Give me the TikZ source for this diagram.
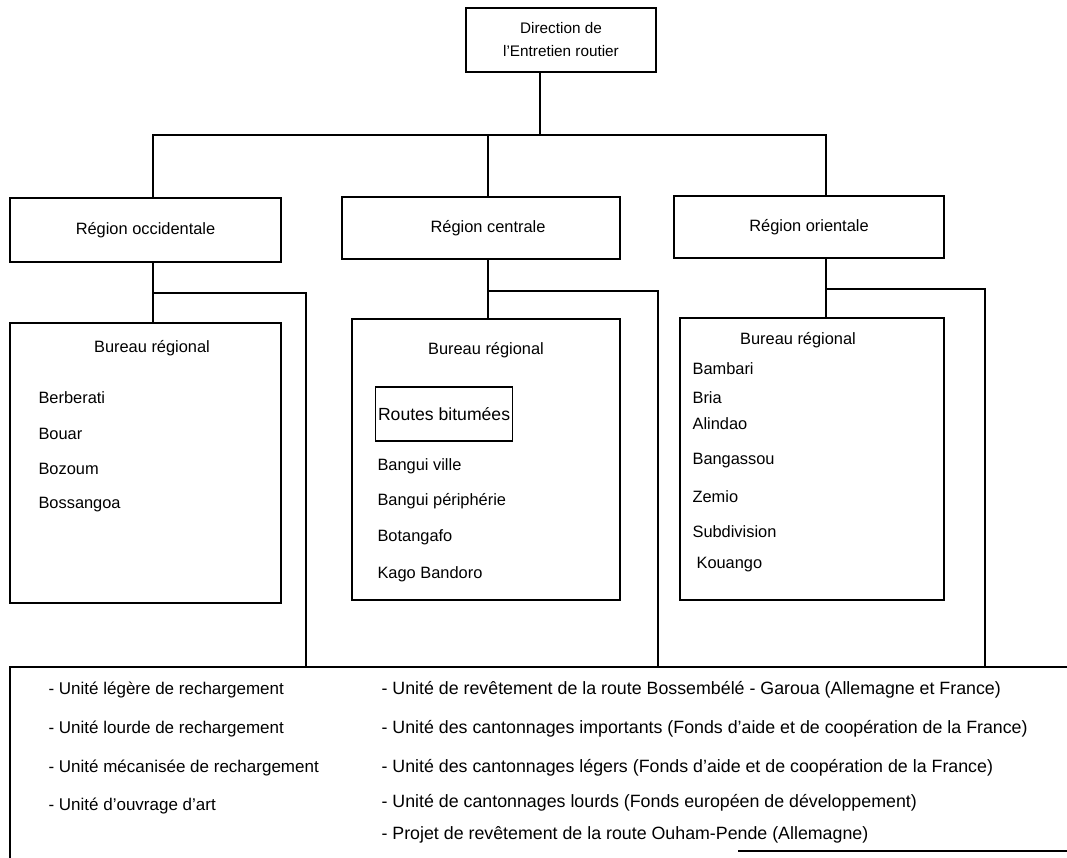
\documentclass[tikz,border=0pt]{standalone}
\usepackage{fontspec}
\setmainfont{Liberation Sans}
\begin{document}
\begin{tikzpicture}[x=1pt,y=-1pt,line width=1.1pt,
  lbl/.style={font=\fontsize{16.4}{23}\selectfont,inner sep=0pt},
  box/.style={draw,rectangle,lbl},
  item/.style={lbl,anchor=west},
  unitl/.style={anchor=west,inner sep=0pt,font=\fontsize{17}{20}\selectfont},
  unitr/.style={anchor=west,inner sep=0pt,font=\fontsize{17.8}{20}\selectfont}]
\useasboundingbox (0,0) rectangle (1067,858);
% top
\node[box,align=center,minimum width=190pt,minimum height=64pt,font=\fontsize{15.3}{23}\selectfont] (dir) at (561,40) {Direction de\\l'Entretien routier};
% regions
\node[box,minimum width=271pt,minimum height=64pt] (occ) at (145.5,230) {Région occidentale};
\node[box,minimum width=278pt,minimum height=62pt] (cen) at (481,228) {\hspace*{14pt}Région centrale};
\node[box,minimum width=270pt,minimum height=62pt] (ori) at (809,227) {Région orientale};
% bureaux
\node[draw,rectangle,minimum width=271pt,minimum height=280pt] (bocc) at (145.5,463) {};
\node[draw,rectangle,minimum width=268pt,minimum height=281pt] (bcen) at (486,459.5) {};
\node[draw,rectangle,minimum width=264pt,minimum height=282pt] (bori) at (812,459) {};
% occidental content
\node[lbl] (tocc) at (152,348) {Bureau régional};
\node[item] (o1) at (38,398) {Berberati};
\node[item] (o2) at (38,434) {Bouar};
\node[item] (o3) at (38,469) {Bozoum};
\node[item] (o4) at (38,505) {Bossangoa};
% central content
\node[lbl] (tcen) at (486,350) {Bureau régional};
\node[draw,rectangle,anchor=west,minimum width=137pt,minimum height=54pt,align=left,inner xsep=1.5pt,inner ysep=0pt,font=\fontsize{17.6}{20}\selectfont] (rb) at (375,414) {Routes bitumées\hfill};
\node[item] (c1) at (377,466) {Bangui ville};
\node[item] (c2) at (377,501) {Bangui périphérie};
\node[item] (c3) at (377,537) {Botangafo};
\node[item] (c4) at (377,574) {Kago Bandoro};
% oriental content
\node[lbl] (tori) at (798,340) {Bureau régional};
\node[item] (r1) at (692,369) {Bambari};
\node[item] (r2) at (692,398) {Bria};
\node[item] (r3) at (692,424) {Alindao};
\node[item] (r4) at (692,461) {Bangassou};
\node[item] (r5) at (692,497) {Zemio};
\node[item] (r6) at (692,532) {Subdivision};
\node[item] (r7) at (696,565) {Kouango};
% bottom units
\node[unitl] (u1) at (48,690) {- Unité légère de rechargement};
\node[unitl] (u2) at (48,729) {- Unité lourde de rechargement};
\node[unitl] (u3) at (48,768) {- Unité mécanisée de rechargement};
\node[unitl] (u4) at (48,806) {- Unité d'ouvrage d'art};
\node[unitr] (v1) at (381,690) {- Unité de revêtement de la route Bossembélé - Garoua (Allemagne et France)};
\node[unitr] (v2) at (381,729) {- Unité des cantonnages importants (Fonds d'aide et de coopération de la France)};
\node[unitr] (v3) at (381,768) {- Unité des cantonnages légers (Fonds d'aide et de coopération de la France)};
\node[unitr] (v4) at (381,803) {- Unité de cantonnages lourds (Fonds européen de développement)};
\node[unitr] (v5) at (381,835) {- Projet de revêtement de la route Ouham-Pende (Allemagne)};
% bottom frame
\coordinate (bl) at (10,858);
\coordinate (btl) at (10,667);
\coordinate (btr) at (1067,667);
\coordinate (bb1) at (738,851);
\coordinate (bb2) at (1067,851);
\draw (btr) -- (btl) -- (bl);
\draw (bb1) -- (bb2);
% connectors
\coordinate (j0) at (540,135);
\coordinate (jo) at (153,135);
\coordinate (jc) at (488,135);
\coordinate (jr) at (826,135);
\draw (dir.south -| j0) -- (j0);
\draw (jo |- occ.north) -- (jo) -- (jr) -- (jr |- ori.north);
\draw (jc) -- (jc |- cen.north);
\draw (jo |- occ.south) -- (jo |- bocc.north);
\draw (jc |- cen.south) -- (jc |- bcen.north);
\draw (jr |- ori.south) -- (jr |- bori.north);
\coordinate (ko) at (153,293);
\coordinate (ko2) at (306,293);
\coordinate (kc) at (488,291);
\coordinate (kc2) at (658,291);
\coordinate (kr) at (826,289);
\coordinate (kr2) at (985,289);
\draw (ko) -- (ko2) -- (ko2 |- btl);
\draw (kc) -- (kc2) -- (kc2 |- btl);
\draw (kr) -- (kr2) -- (kr2 |- btl);
\end{tikzpicture}
\end{document}
